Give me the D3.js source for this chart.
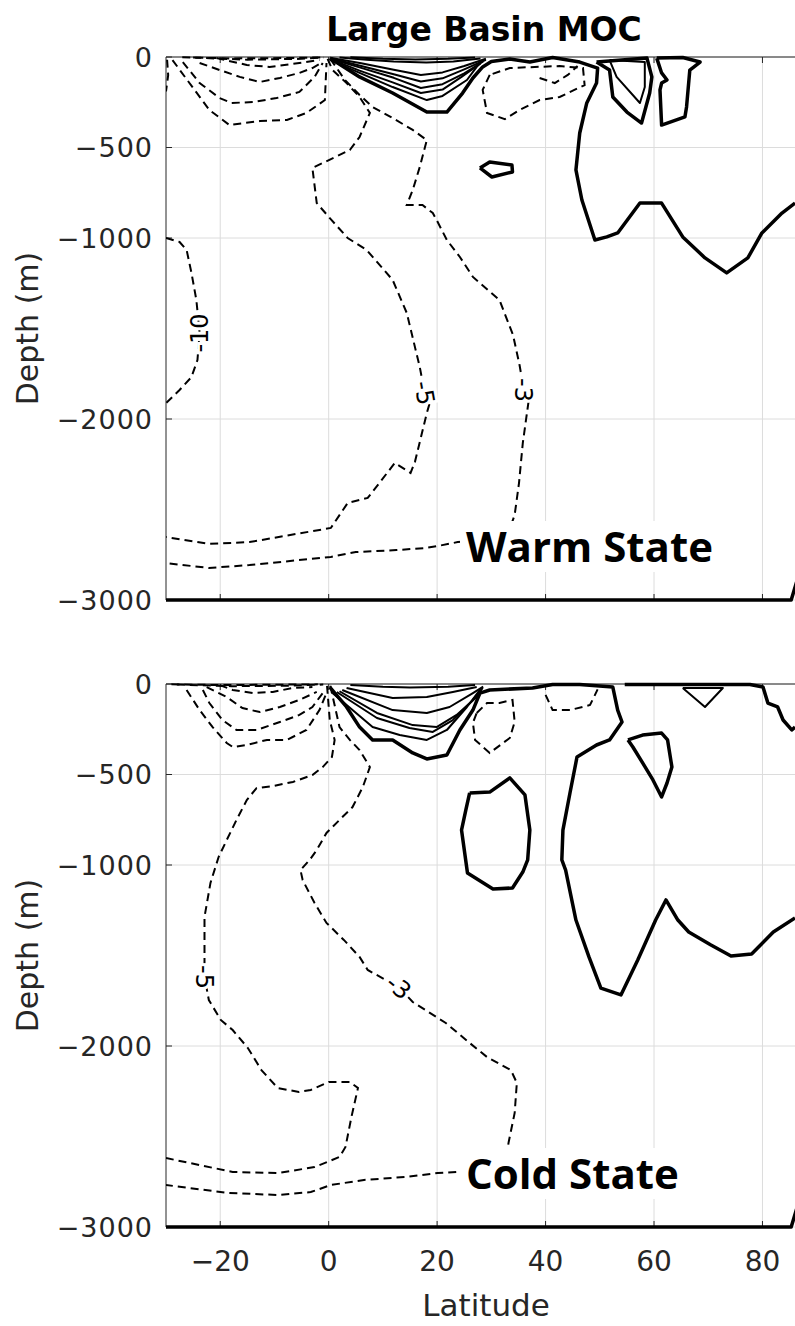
<!DOCTYPE html>
<html>
<head>
<meta charset="utf-8">
<script src="https://cdn.jsdelivr.net/npm/d3@7"></script>
<style>
  body { margin: 0; background: #fff; }
  svg { display: block; }
</style>
</head>
<body>
<svg id="chart"></svg>
<script>
// Data: contour polylines as [latitude, depth] pairs
const xTicks = [-20, 0, 20, 40, 60, 80];
const yTicks = [0, -500, -1000, -2000, -3000];

// Warm state
const warmDashed = [
  [[-28.8,-17],[-22,-293],[-18.3,-376],[-12.7,-354],[-7.7,-348],[-4.1,-309],[-0.7,-238],[-0.4,-33]],
  [[-26.9,-28],[-23.8,-144],[-20.1,-227],[-17.9,-254],[-14,-249],[-9.6,-227],[-5.4,-193],[-2.6,-110],[-1.1,-33]],
  [[-23.8,-33],[-20.1,-72],[-16.4,-110],[-12.7,-138],[-9,-116],[-5.4,-88],[-3,-61],[-1.1,-28]],
  [[-20.7,-6],[-15.1,-44],[-10.9,-55],[-5.4,-33],[-1.7,-17]],
  [[-25,-3],[-15,-15],[-5,-10],[-1,-3]],
  [[-27,-2],[-18,-8],[-8,-6],[-1,-2]],
  [[-29.8,-15],[-29.6,-100],[-30,-190]],
  [[-30,-1000],[-27.5,-1022],[-26.2,-1066],[-25.3,-1193],[-24.4,-1343],[-23.8,-1525],[-24.2,-1674],[-25.3,-1768],[-27.5,-1840],[-30,-1912]],
  [[-0.2,-10],[0.7,-72],[3.3,-144],[5.7,-221],[7.6,-309],[5.7,-442],[3.9,-514],[-3,-613],[-2.2,-807],[0.5,-900],[3.5,-1000],[7,-1066],[11.8,-1232],[14.4,-1414],[16.8,-1713],[17.7,-1856],[18.8,-1895],[18.1,-1967],[15.9,-2238],[15.1,-2298],[12.2,-2243],[7.2,-2436],[3.5,-2464],[0.4,-2602],[-14.6,-2680],[-22.1,-2690],[-30,-2652]],
  [[0.3,-10],[3,-127],[5.7,-210],[8.1,-276],[11.8,-337],[15.5,-403],[18.1,-459],[16.8,-608],[15.5,-735],[14.4,-818],[17.3,-818],[19.2,-862],[19.9,-900],[21.8,-1011],[24.2,-1105],[26.6,-1215],[27.9,-1249],[31.5,-1343],[34,-1536],[35.2,-1702],[36,-1840],[36.9,-1895],[35.8,-2133],[35.1,-2354],[34.3,-2530],[33,-2641],[28.8,-2669],[23.8,-2680],[20.1,-2702],[17.7,-2713],[12.5,-2724],[5,-2735],[0.4,-2762],[-14.6,-2807],[-22.1,-2823],[-30,-2796]],
  [[29.7,-99],[28.4,-182],[29.2,-309],[32.5,-343],[35.2,-293],[38.9,-238],[42.6,-221],[47.2,-155],[46.9,-61],[42.6,-50],[38,-55],[33.4,-61],[29.7,-99]],
  [[38.9,-116],[41.7,-144],[44.1,-99],[45.9,-50]]
];
const warmThin = [
  [[0.2,-16],[5.7,-88],[11.8,-166],[18.1,-238],[21,-215],[25.5,-127],[27.3,-55],[28.5,-15]],
  [[0.3,-12],[5.7,-75],[11.8,-140],[17,-199],[21,-180],[24.5,-110],[28,-35]],
  [[0.3,-10],[6,-60],[12,-115],[17,-171],[21,-150],[25,-90],[28.5,-25]],
  [[0.5,-8],[6,-50],[12,-95],[17,-135],[21,-118],[25,-68],[29,-15]],
  [[0.5,-6],[6,-35],[12,-70],[17,-99],[21,-85],[25,-50],[29,-10]],
  [[2,-3],[7,-15],[12,-25],[18,-30],[23,-25],[28,-8]],
  [[4,-2],[10,-10],[16,-14],[22,-10],[27,-3]],
  [[51.8,-17],[53.1,-110],[57.4,-254],[58.3,-166],[58.3,-28],[51.8,-17]]
];
const warmThick = [
  [[0.2,-5],[5.7,-110],[11.8,-199],[18.1,-304],[21.8,-304],[24.7,-199],[26.6,-116],[28.4,-55],[30,-25],[33.4,-11],[37.1,-28],[41.3,-3],[46.3,-28],[49.6,-61],[49.4,-144],[47.6,-254],[46.3,-420],[45.6,-624],[46.7,-790],[49.1,-1011],[51.3,-994],[53.3,-972],[57.4,-807],[61.4,-807],[65.3,-994],[69.4,-1110],[73.4,-1193],[77.3,-1110],[79.9,-972],[83.6,-862],[86,-807]],
  [[49.4,-28],[58.7,-6],[59.6,-110],[59.2,-199],[57.7,-365],[55,-304],[52.4,-221],[51.8,-72],[49.4,-28]],
  [[60.5,-6],[65.3,-3],[68.5,-28],[66.6,-72],[66,-276],[65.7,-331],[61.4,-376],[61.1,-182],[61.4,-144],[62.4,-127],[61.4,-88],[60.5,-6]],
  [[27.9,-613],[29.7,-580],[33.8,-597],[33.9,-635],[30.1,-663],[27.9,-613]],
  [[-30,-3000],[85.3,-3000],[86.5,-2880]]
];
const warmLabels = [[-23.8,-1525,"-10",-90],[17.7,-1856,"-5",80],[36,-1840,"-3",90]];

// Cold state
const coldDashed = [
  [[-26.2,-33],[-23.8,-144],[-21.4,-238],[-18.8,-326],[-17.7,-348],[-15.1,-337],[-11.4,-309],[-7.7,-309],[-4.1,-254],[-1.7,-144],[-0.4,-50]],
  [[-23.2,-33],[-22,-105],[-19.6,-199],[-17,-254],[-13.3,-254],[-9,-210],[-5.4,-171],[-3,-127],[-1.1,-50]],
  [[-22.5,-17],[-18.8,-72],[-15.9,-133],[-12.7,-155],[-9,-127],[-5.4,-88],[-2.2,-44]],
  [[-20.1,-6],[-17.7,-33],[-14,-50],[-10.3,-44],[-6.6,-22],[-3,-17]],
  [[-28,-3],[-18,-12],[-8,-10],[-1,-3]],
  [[-29,-2],[-20,-6],[-10,-4],[-2,-2]],
  [[-0.3,-10],[0.2,-199],[1.1,-309],[0.6,-403],[-1.1,-459],[-3,-503],[-6.6,-541],[-10.3,-564],[-13.3,-575],[-15.1,-641],[-17,-751],[-18.8,-862],[-20.3,-956],[-21.8,-1099],[-22.9,-1287],[-22.9,-1525],[-22.9,-1619],[-22.1,-1746],[-19.9,-1856],[-17.7,-1912],[-14.9,-2011],[-12.4,-2133],[-9.4,-2232],[-5.5,-2254],[-3.3,-2243],[0,-2199],[3.9,-2199],[5.4,-2232],[4.2,-2392],[3.1,-2558],[2,-2613],[-2.6,-2669],[-9.4,-2702],[-17.7,-2696],[-30,-2619]],
  [[0.3,-10],[2,-238],[3.9,-309],[5.7,-365],[7.6,-459],[6.3,-569],[4.4,-680],[2,-751],[-0.4,-823],[-2.2,-917],[-3.5,-972],[-5.2,-1028],[-4.8,-1083],[-2.6,-1210],[-0.4,-1320],[2.8,-1414],[5.7,-1508],[7.2,-1580],[12.9,-1674],[15.5,-1757],[21.6,-1873],[26,-1983],[29.2,-2061],[33.6,-2133],[34.7,-2204],[34.3,-2370],[33.2,-2530],[32.5,-2657],[28.8,-2685],[23.8,-2696],[20.1,-2702],[14,-2724],[6.5,-2740],[0.4,-2768],[-3.3,-2807],[-9.4,-2823],[-18.5,-2812],[-30,-2768]],
  [[27.3,-160],[29.2,-105],[31.5,-105],[33.9,-88],[34.3,-210],[33.4,-298],[29.7,-381],[27,-309],[26.6,-215],[27.3,-160]],
  [[40,-60],[41.3,-144],[44.5,-144],[48.2,-116],[49.6,-30]]
];
const coldThin = [
  [[0.7,-50],[8.1,-238],[13.1,-282],[18.1,-309],[21.8,-254],[25.5,-127],[27.9,-33]],
  [[1.5,-44],[8.9,-188],[14.9,-243],[19.2,-265],[22.9,-199],[26.6,-88],[28.2,-25]],
  [[2,-40],[8.9,-160],[15.5,-227],[19.9,-238],[23.6,-171],[27.3,-72],[28.4,-20]],
  [[2.5,-33],[11.8,-144],[18.1,-160],[22.3,-127],[26.6,-50],[28.5,-15]],
  [[3.3,-22],[11.8,-77],[18.1,-72],[22.9,-44],[27.3,-17]],
  [[4,-5],[10,-15],[15,-20],[22,-15],[27,-5]],
  [[65.3,-22],[72.7,-22],[69.4,-127],[65.3,-22]]
];
const coldThick = [
  [[0.2,-17],[3.3,-127],[5.7,-238],[8.1,-309],[11.8,-309],[15.5,-381],[18.1,-414],[21.8,-392],[24.2,-254],[26.6,-144],[27.9,-50],[29.7,-33],[37.6,-22],[41.3,-3],[46.3,-3],[52.4,-17],[53.3,-144],[54.1,-210],[51.8,-309],[49.4,-337],[45.8,-403],[44.5,-602],[43.2,-807],[43,-972],[43.7,-1028],[45.6,-1304],[48,-1508],[50.2,-1680],[53.9,-1718],[57,-1525],[60.3,-1304],[62.2,-1193],[64.4,-1304],[66.4,-1370],[70.5,-1442],[74.2,-1503],[78,-1492],[82,-1370],[86,-1293]],
  [[26,-602],[29.7,-597],[33.4,-519],[36.2,-613],[37.1,-807],[36.7,-972],[35.8,-1039],[33.9,-1127],[30.3,-1133],[25.6,-1044],[24.5,-807],[25.3,-696],[26,-602]],
  [[55.2,-309],[57.9,-282],[61.4,-271],[62.5,-309],[63.3,-459],[62.4,-547],[61.4,-624],[59.8,-530],[57.9,-436],[56.1,-348],[55.2,-309]],
  [[54.6,-3],[77.7,-3],[80.1,-17],[81,-105],[82.8,-127],[83.8,-199],[85.4,-254],[86,-238]],
  [[-30,-3000],[85.3,-3000],[86.5,-2880]]
];
const coldLabels = [[-22.9,-1619,"-5",90],[12.9,-1674,"-3",40]];

const panels = [
  { name: "Warm State", top: 57, dashed: warmDashed, thin: warmThin, thick: warmThick, labels: warmLabels, showX: false },
  { name: "Cold State", top: 684, dashed: coldDashed, thin: coldThin, thick: coldThick, labels: coldLabels, showX: true }
];

const width = 795, height = 1326;
const left = 166, right = 795, panelH = 543;
const tickFont = "'DejaVu Sans', sans-serif";
const ink = "#262626";

const svg = d3.select("#chart").attr("width", width).attr("height", height);

const x = d3.scaleLinear().domain([-30, 86]).range([left, right]);

svg.append("text")
  .attr("x", 484).attr("y", 41)
  .attr("text-anchor", "middle")
  .style("font-family", tickFont).style("font-weight", "bold")
  .style("font-size", "33px").attr("fill", "#000")
  .text("Large Basin MOC");

panels.forEach((p, i) => {
  const y = d3.scaleLinear().domain([-3000, 0]).range([p.top + panelH, p.top]);
  const g = svg.append("g");

  const clipId = "clip" + i;
  svg.append("clipPath").attr("id", clipId)
    .append("rect").attr("x", left).attr("y", p.top - 2).attr("width", right - left).attr("height", panelH + 4);

  // grid
  g.selectAll(".gx").data(xTicks).join("line")
    .attr("x1", d => x(d)).attr("x2", d => x(d))
    .attr("y1", p.top).attr("y2", p.top + panelH)
    .attr("stroke", "#dcdcdc").attr("stroke-width", 1);
  g.selectAll(".gy").data(yTicks).join("line")
    .attr("x1", left).attr("x2", right)
    .attr("y1", d => y(d)).attr("y2", d => y(d))
    .attr("stroke", "#dcdcdc").attr("stroke-width", 1);

  // axes box (left + top), ticks inside
  g.append("line").attr("x1", left).attr("x2", left).attr("y1", p.top).attr("y2", p.top + panelH)
    .attr("stroke", ink).attr("stroke-width", 1);
  g.append("line").attr("x1", left).attr("x2", right).attr("y1", p.top).attr("y2", p.top)
    .attr("stroke", ink).attr("stroke-width", 1);
  g.selectAll(".ty").data(yTicks).join("line")
    .attr("x1", left).attr("x2", left + 6)
    .attr("y1", d => y(d)).attr("y2", d => y(d))
    .attr("stroke", ink);
  g.selectAll(".tx").data(xTicks).join("line")
    .attr("x1", d => x(d)).attr("x2", d => x(d))
    .attr("y1", p.top + panelH).attr("y2", p.top + panelH - 6)
    .attr("stroke", ink);
  g.selectAll(".tx2").data(xTicks).join("line")
    .attr("x1", d => x(d)).attr("x2", d => x(d))
    .attr("y1", p.top).attr("y2", p.top + 6)
    .attr("stroke", ink);

  const line = d3.line().x(d => x(d[0])).y(d => y(d[1]));
  const c = g.append("g").attr("clip-path", "url(#" + clipId + ")");

  c.selectAll(".dash").data(p.dashed).join("path")
    .attr("d", line).attr("fill", "none").attr("stroke", "#000")
    .attr("stroke-width", 2).attr("stroke-dasharray", "8,5");
  c.selectAll(".thin").data(p.thin).join("path")
    .attr("d", line).attr("fill", "none").attr("stroke", "#000")
    .attr("stroke-width", 2).attr("stroke-linejoin", "round");
  c.selectAll(".thick").data(p.thick).join("path")
    .attr("d", line).attr("fill", "none").attr("stroke", "#000")
    .attr("stroke-width", 3.5).attr("stroke-linejoin", "round");

  // inline contour labels
  c.selectAll(".lbl").data(p.labels).join("text")
    .attr("transform", d => "translate(" + x(d[0]) + "," + y(d[1]) + ") rotate(" + d[3] + ")")
    .attr("text-anchor", "middle").attr("dy", "0.35em")
    .style("font-family", tickFont).style("font-size", "24px")
    .attr("fill", "#000").attr("stroke", "#fff").attr("stroke-width", 6)
    .style("paint-order", "stroke")
    .text(d => d[2]);

  // y tick labels
  g.selectAll(".yl").data(yTicks).join("text")
    .attr("x", 153).attr("y", d => y(d)).attr("dy", "0.36em")
    .attr("text-anchor", "end")
    .style("font-family", tickFont).style("font-size", "27px")
    .style("letter-spacing", "1px")
    .attr("fill", ink)
    .text(d => d3.format("d")(d).replace("-", "\u2212"));

  // y axis label
  g.append("text")
    .attr("transform", "translate(38," + (p.top + panelH / 2) + ") rotate(-90)")
    .attr("text-anchor", "middle")
    .style("font-family", tickFont).style("font-size", "30px")
    .attr("fill", ink)
    .text("Depth (m)");

  // state label with white box
  const lab = g.append("g");
  const t = lab.append("text")
    .attr("x", 466).attr("y", p.top + panelH - 38)
    .style("font-family", "'Open Sans', sans-serif").style("font-weight", "bold")
    .style("font-size", "42px").attr("fill", "#000")
    .text(p.name);
  const bb = t.node().getBBox();
  lab.insert("rect", "text")
    .attr("x", bb.x - 6).attr("y", bb.y + 4).attr("width", bb.width + 10).attr("height", bb.height - 6)
    .attr("fill", "#fff");

  if (p.showX) {
    g.selectAll(".xl").data(xTicks).join("text")
      .attr("x", d => x(d)).attr("y", p.top + panelH + 44)
      .attr("text-anchor", "middle")
      .style("font-family", tickFont).style("font-size", "28px")
      .attr("fill", ink)
      .text(d => d3.format("d")(d).replace("-", "\u2212"));
    g.append("text")
      .attr("x", 486).attr("y", p.top + panelH + 89)
      .attr("text-anchor", "middle")
      .style("font-family", tickFont).style("font-size", "31px")
      .attr("fill", ink)
      .text("Latitude");
  }
});
</script>
</body>
</html>
